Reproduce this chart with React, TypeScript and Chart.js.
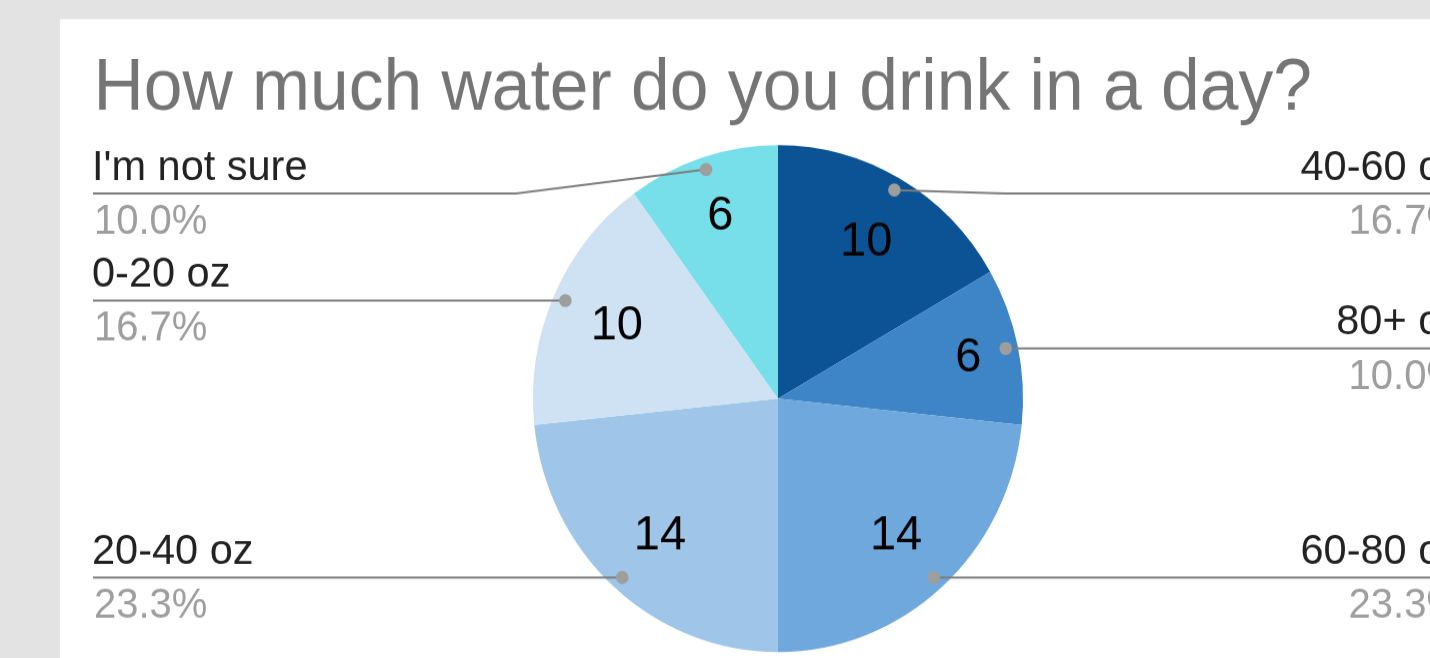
import { useEffect, useRef } from 'react';
import { Chart, registerables } from 'chart.js';

Chart.register(...registerables);

const titleText = 'How much water do you drink in a day?';
const categories = ['40-60 oz', '80+ oz', '60-80 oz', '20-40 oz', '0-20 oz', "I'm not sure"];
const values = [10, 6, 14, 14, 10, 6];
const sliceColors = ['#0b5394', '#3d85c6', '#6fa8dc', '#9fc5e8', '#cfe2f3', '#77dfe9'];

const W = 1430;
const H = 636;
const SY = 658 / 636;
const FONT = '"Liberation Sans", Arial, Helvetica, sans-serif';

const decor = {
  id: 'decor',
  beforeDraw(chart: any) {
    const ctx = chart.ctx;
    ctx.save();
    ctx.fillStyle = '#e3e3e3';
    ctx.fillRect(0, 0, W, H);
    ctx.fillStyle = '#ffffff';
    ctx.fillRect(60, 18.4, W, H);
    ctx.fillStyle = '#757575';
    ctx.font = `69.6px ${FONT}`;
    ctx.textBaseline = 'alphabetic';
    ctx.textAlign = 'left';
    ctx.fillText(titleText, 93.5, 106.3);
    ctx.restore();
  },
  afterDatasetsDraw(chart: any) {
    const ctx = chart.ctx;
    const meta = chart.getDatasetMeta(0);
    const total = values.reduce((a, b) => a + b, 0);
    ctx.save();
    meta.data.forEach((arc: any, i: number) => {
      const { x, y, startAngle, endAngle, outerRadius } = arc.getProps(
        ['x', 'y', 'startAngle', 'endAngle', 'outerRadius'],
        true
      );
      const mid = (startAngle + endAngle) / 2;
      const frac = values[i] / total;
      // value label inside slice
      const f = frac < 0.12 ? 0.745 + 0.05 * Math.abs(Math.cos(mid)) : 0.72;
      const vx = x + Math.cos(mid) * outerRadius * f;
      const vy = y + Math.sin(mid) * outerRadius * f;
      ctx.fillStyle = '#000000';
      ctx.font = `47px ${FONT}`;
      ctx.textAlign = 'center';
      ctx.textBaseline = 'middle';
      ctx.fillText(String(values[i]), vx, vy + 1.5);

      // leader
      const dx = x + Math.cos(mid) * outerRadius * 0.95;
      const dy = y + Math.sin(mid) * outerRadius * 0.95;
      const left = Math.cos(mid) < 0;
      const lineY = Math.max(dy, 187);
      ctx.strokeStyle = '#7d7d7d';
      ctx.lineWidth = 2;
      ctx.beginPath();
      if (left) {
        ctx.moveTo(93, lineY);
        if (Math.abs(lineY - dy) > 0.5) {
          ctx.lineTo(dx - 190, lineY);
        }
        ctx.lineTo(dx, dy);
      } else {
        ctx.moveTo(W + 20, lineY);
        if (Math.abs(lineY - dy) > 0.5) {
          ctx.lineTo(dx + 110, lineY);
        }
        ctx.lineTo(dx, dy);
      }
      ctx.stroke();
      ctx.fillStyle = '#9e9e9e';
      ctx.beginPath();
      ctx.arc(dx, dy, 6.3, 0, Math.PI * 2);
      ctx.fill();

      // text
      ctx.textBaseline = 'alphabetic';
      const tx = left ? 92 : 1462;
      ctx.textAlign = left ? 'left' : 'right';
      ctx.font = `41.5px ${FONT}`;
      ctx.fillStyle = '#222222';
      ctx.fillText(categories[i], tx, lineY - 13.5);
      ctx.font = `40px ${FONT}`;
      ctx.fillStyle = '#9e9e9e';
      ctx.fillText(((values[i] / total) * 100).toFixed(1) + '%', tx + (left ? 2 : 0), lineY + 38.7);
    });
    ctx.restore();
  },
};

export default function App() {
  const ref = useRef<HTMLCanvasElement | null>(null);
  useEffect(() => {
    document.body.style.margin = '0';
    document.body.style.overflow = 'hidden';
    const canvas = ref.current;
    if (!canvas) return;
    const chart = new Chart(canvas, {
      type: 'pie',
      data: {
        labels: categories,
        datasets: [
          {
            data: values,
            backgroundColor: sliceColors,
            borderWidth: 0,
          },
        ],
      },
      options: {
        responsive: false,
        animation: false,
        devicePixelRatio: 1,
        layout: { padding: { top: 140.2, bottom: 5.8, left: 533, right: 407 } },
        plugins: {
          legend: { display: false },
          tooltip: { enabled: false },
          title: { display: false },
        },
      },
      plugins: [decor],
    });
    return () => chart.destroy();
  }, []);
  return (
    <div
      style={{
        position: 'absolute',
        left: 0,
        top: 0,
        width: W,
        height: H,
        transform: `scaleY(${SY})`,
        transformOrigin: '0 0',
      }}
    >
      <canvas ref={ref} width={W} height={H} style={{ width: W, height: H, display: 'block' }} />
    </div>
  );
}
